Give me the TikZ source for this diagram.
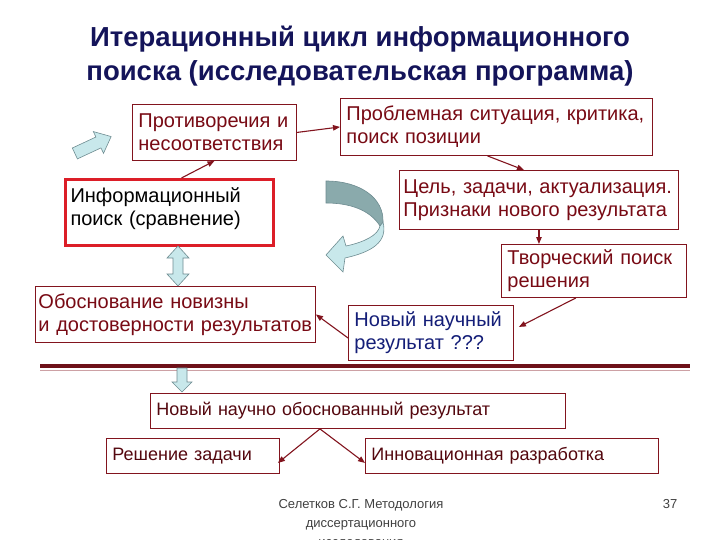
\documentclass[tikz,border=0pt]{standalone}
\usepackage{fontspec}
\setmainfont{Liberation Sans}
\usepackage{xcolor}
\definecolor{boxred}{RGB}{130,20,30}
\definecolor{textred}{RGB}{120,10,20}
\definecolor{infored}{RGB}{220,30,40}
\definecolor{titleblue}{RGB}{20,20,90}
\definecolor{navytext}{RGB}{20,30,120}
\definecolor{cyanfill}{RGB}{200,232,235}
\definecolor{cyandark}{RGB}{138,170,172}
\definecolor{cyanline}{RGB}{110,140,145}
\usetikzlibrary{arrows.meta,positioning,calc}
\tikzset{
  sl_box/.style={rectangle,anchor=north west,
    draw=boxred,line width=0.9pt,fill=white,
    align=left,text=textred,
    font=\fontsize{20}{23}\selectfont,
    inner xsep=6pt,inner ysep=2pt},
  sl_info/.style={sl_box,draw=infored,line width=3pt,text=black},
  sl_small/.style={sl_box,font=\fontsize{18}{21}\selectfont,text=textred!70!black},
  sl_link/.style={-{Triangle[length=7pt,width=5.5pt]},line width=1.1pt,draw=boxred},
  sl_block/.style={draw=cyanline,line width=0.6pt,fill=cyanfill},
  sl_title/.style={align=center,text=titleblue,
    font=\fontsize{27.5}{34}\selectfont\bfseries},
  sl_foot/.style={align=center,text=black!75,
    font=\fontsize{13}{19}\selectfont},
}

\begin{document}
\begin{tikzpicture}[x=1pt,y=-1pt]
  \useasboundingbox (0,0) rectangle (720,540);
  \node (title) [sl_title] at (360,56) {Итерационный цикл информационного\\поиска (исследовательская программа)};
  \node (contr) [sl_box,text width=152pt,minimum height=56pt] at (132,104) {Противоречия и\\несоответствия};
  \node (problem) [sl_box,text width=300pt,minimum height=57pt] at (340,98) {Проблемная ситуация, критика,\\поиск позиции};
  \node (info) [sl_info,text width=198pt,inner xsep=5pt,minimum height=66pt] at (64,178) {Информационный\\поиск (сравнение)\\[-12pt]\mbox{}};
  \node (goal) [sl_box,text width=271pt,inner xsep=4pt,minimum height=59pt] at (399,170) {Цель, задачи, актуализация.\\Признаки нового результата};
  \node (creative) [sl_box,text width=173pt,minimum height=53pt] at (501,244) {Творческий поиск\\решения};
  \node (just) [sl_box,text width=274pt,inner xsep=3pt,minimum height=56pt] at (35,286) {Обоснование новизны\\и достоверности результатов};
  \node (newres) [sl_box,text width=153pt,minimum height=55pt,text=navytext] at (348,305) {Новый научный\\результат ???};
  \node (newjust) [sl_small,text width=403pt,minimum height=35pt] at (150,393) {Новый научно обоснованный результат};
  \node (solve) [sl_small,text width=161pt,minimum height=35pt] at (106,438) {Решение задачи};
  \node (innov) [sl_small,text width=281pt,minimum height=35pt] at (365,438) {Инновационная разработка};
  \node (author) [sl_foot,anchor=north] at (361,496) {Селетков С.Г. Методология\\диссертационного\\исследования};
  \node (page) [sl_foot,anchor=north] at (670,496) {37};
  \draw[sl_link] (contr.east) -- (problem.west);
  \draw[sl_link] ([xshift=12pt]info.north) -- (contr.south);
  \draw[sl_link] ([xshift=-9pt]problem.south) -- ([xshift=-15pt]goal.north);
  \draw[sl_link] (goal.south) -- (goal.south |- creative.north);
  \draw[sl_link] ([xshift=-18pt]creative.south) -- ([xshift=5pt,yshift=6pt]newres.east);
  \draw[sl_link] ([yshift=-5pt]newres.west) -- (just.east);
  \draw[sl_link] ([xshift=-38pt]newjust.south) -- ([xshift=-2pt,yshift=-7pt]solve.east);
  \draw[sl_link] ([xshift=-38pt]newjust.south) -- ([yshift=-7pt]innov.west);
  \draw[boxred!85!black,line width=3.5pt] (40,366) -- (690,366);
  \draw[boxred!40,line width=1pt] (40,370.5) -- (690,370.5);
  \begin{scope}[shift={(93,145)},rotate=25]
    \draw[sl_block] (-20,-6) -- (6,-6) -- (6,-12) -- (20,0) -- (6,12) -- (6,6) -- (-20,6) -- cycle;
  \end{scope}
  \draw[sl_block] (178,246) -- (167,258) -- (173,258) -- (173,274) -- (167,274) -- (178,286)
    -- (189,274) -- (183,274) -- (183,258) -- (189,258) -- cycle;
  \draw[sl_block] (177,368) -- (187,368) -- (187,382) -- (192,382) -- (182,392) -- (172,382) -- (177,382) -- cycle;
  \draw[sl_block,fill=cyandark] (326,181) .. controls (360,181) and (384,198) .. (383,222)
    -- (380,226) .. controls (370,210) and (350,203) .. (326,203) -- cycle;
  \draw[sl_block] (383,222) .. controls (388,242) and (372,252) .. (345,258) -- (343,272) -- (326,255)
    -- (343,236) -- (346,246) .. controls (365,242) and (378,235) .. (380,226) -- cycle;
\end{tikzpicture}
\end{document}
